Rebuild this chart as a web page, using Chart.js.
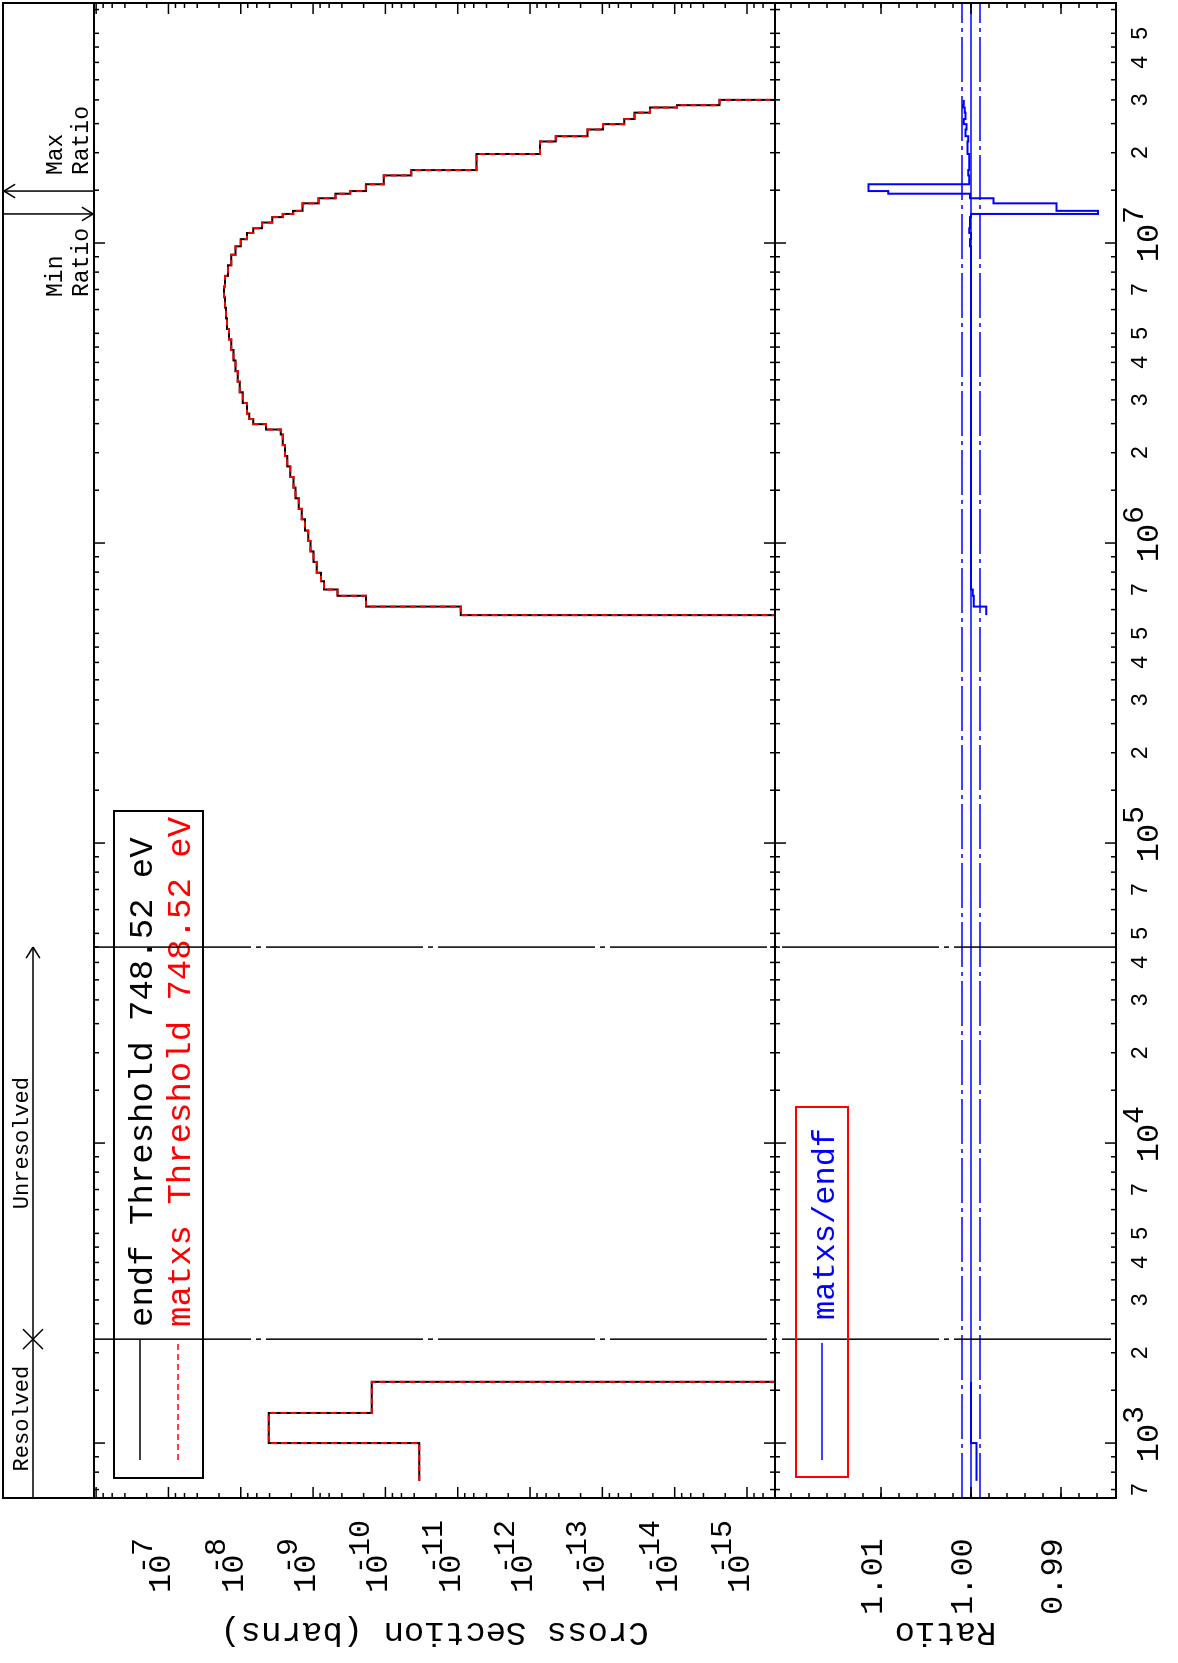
<!DOCTYPE html>
<html>
<head>
<meta charset="utf-8">
<title>matxs / endf</title>
<script src="https://cdn.jsdelivr.net/npm/chart.js@4.4.1/dist/chart.umd.min.js"></script>
<style>
  html, body { margin: 0; padding: 0; background: #fff; overflow: hidden; }
  #sheet {
    position: absolute; left: 0; top: 0;
    width: 1663px; height: 1178px;
    transform-origin: 0 0;
    transform: translate(0px, 1663px) rotate(-90deg);
  }
  #sheet canvas { position: absolute; left: 0; top: 0; }
</style>
</head>
<body>
<div id="sheet">
  <canvas id="xsChart" width="1663" height="1178"></canvas>
  <canvas id="ratioChart" width="1663" height="1178"></canvas>
</div>
<script>
// the plot is laid out landscape and turned a quarter turn, like the printed original

// group lower bounds (eV); last entry closes the last group
const groupE = [748.52, 1000, 1260, 1600, 5.75e5, 6.14e5, 6.67e5, 7.0e5, 7.46e5, 7.96e5,
  8.65e5, 9.38e5, 1.016e6, 1.10e6, 1.20e6, 1.30e6, 1.41e6, 1.53e6, 1.66e6, 1.80e6,
  1.95e6, 2.12e6, 2.30e6, 2.39e6, 2.49e6, 2.59e6, 2.70e6, 2.93e6, 3.18e6, 3.45e6,
  3.74e6, 4.06e6, 4.40e6, 4.77e6, 5.17e6, 5.61e6, 6.09e6, 6.60e6, 7.16e6, 7.77e6,
  8.43e6, 9.14e6, 9.75e6, 1.03e7, 1.08e7, 1.12e7, 1.17e7, 1.22e7, 1.25e7, 1.28e7,
  1.356e7, 1.41e7, 1.46e7, 1.49e7, 1.57e7, 1.68e7, 1.75e7, 1.98e7, 2.18e7, 2.27e7,
  2.39e7, 2.49e7, 2.59e7, 2.72e7, 2.83e7, 2.88e7, 3.0e7, 6.31e7];

// cross sections (barns), 0 = no reaction
const endfXs = [3.4e-11, 4.1e-9, 1.55e-10, 0, 9.1e-12, 1.85e-10, 4.6e-10, 7.06e-10, 7.8e-10, 8.9e-10,
  9.9e-10, 1.09e-9, 1.17e-9, 1.29e-9, 1.43e-9, 1.58e-9, 1.75e-9, 1.87e-9, 2.07e-9, 2.28e-9,
  2.44e-9, 2.62e-9, 2.8e-9, 4.48e-9, 6.7e-9, 7.66e-9, 8.2e-9, 9.36e-9, 1.03e-8, 1.1e-8,
  1.18e-8, 1.26e-8, 1.35e-8, 1.45e-8, 1.55e-8, 1.6e-8, 1.65e-8, 1.71e-8, 1.65e-8, 1.5e-8,
  1.35e-8, 1.18e-8, 1.0e-8, 8.2e-9, 6.7e-9, 5.1e-9, 3.66e-9, 2.62e-9, 1.9e-9, 1.4e-9,
  8.4e-10, 4.9e-10, 3.06e-10, 1.85e-10, 1.05e-10, 4.4e-11, 5.5e-12, 7.3e-13, 4.4e-13, 1.6e-13,
  9.8e-14, 5.0e-14, 3.6e-14, 2.2e-14, 9.3e-15, 2.4e-15, 0, 0];
const matxsXs = [3.4e-11, 4.1e-9, 1.55e-10, 0, 9.08e-12, 1.85e-10, 4.6e-10, 7.06e-10, 7.8e-10, 8.9e-10,
  9.9e-10, 1.09e-9, 1.17e-9, 1.29e-9, 1.43e-9, 1.58e-9, 1.75e-9, 1.87e-9, 2.07e-9, 2.28e-9,
  2.44e-9, 2.62e-9, 2.8e-9, 4.48e-9, 6.7e-9, 7.66e-9, 8.2e-9, 9.36e-9, 1.03e-8, 1.1e-8,
  1.18e-8, 1.26e-8, 1.35e-8, 1.45e-8, 1.55e-8, 1.6e-8, 1.65e-8, 1.71e-8, 1.65e-8, 1.5e-8,
  1.35e-8, 1.18e-8, 1.0e-8, 8.2e-9, 6.7e-9, 5.1e-9, 3.66e-9, 2.62e-9, 1.87e-9, 1.39e-9,
  8.38e-10, 4.9e-10, 3.09e-10, 1.87e-10, 1.05e-10, 4.4e-11, 5.5e-12, 7.3e-13, 4.4e-13, 1.6e-13,
  9.8e-14, 5.0e-14, 3.6e-14, 2.2e-14, 9.3e-15, 2.4e-15, 0, 0];
// matxs/endf per group, null where both are zero
const ratio = [0.9994, 1.0000, 1.0000, null, 0.9983, 0.9997, 0.9998, 1.0000, 1.0000, 1.0000,
  1.0000, 1.0000, 1.0000, 1.0000, 1.0000, 1.0000, 1.0000, 1.0000, 1.0000, 1.0000,
  1.0000, 1.0000, 1.0000, 1.0000, 1.0000, 1.0000, 1.0000, 1.0000, 1.0000, 1.0000,
  1.0000, 1.0000, 1.0000, 1.0000, 1.0000, 1.0000, 1.0000, 1.0000, 1.0000, 1.0000,
  1.0000, 1.0000, 1.0001, 1.0000, 1.0002, 1.0001, 1.0001, 1.0000, 0.9859, 0.9905,
  0.9975, 1.0001, 1.0092, 1.0114, 1.0002, 1.0003, 1.0002, 1.0004, 1.0003, 1.0006,
  1.0005, 1.0008, 1.0006, 1.0007, 1.0009, 1.0008, null, null];

const ratioBand = [0.999, 1.000, 1.001];           // blue guide lines
const regionBounds = [2.22e3, 4.5e4];               // resolved | unresolved | fast
const maxRatioE = 1.49e7, minRatioE = 1.25e7;

const energyDecades = [1e2, 1e3, 1e4, 1e5, 1e6, 1e7];
const energyMinor = [1.5, 2, 2.5, 3, 3.5, 4, 4.5, 5, 6, 7, 8, 9];
const energyMinorLabels = [2, 3, 4, 5, 7];
const xsExponents = [-6, -7, -8, -9, -10, -11, -12, -13, -14, -15, -16];
const xsLabelExponents = [-7, -8, -9, -10, -11, -12, -13, -14, -15];
const xsMinor = [2, 4, 6, 8];
const ratioMajor = [1.01, 1.00, 0.99];
const ratioLabels = ['1.01', '1.00', '0.99'];
const ratioMinorStep = 0.002;

const E_MIN = 656, E_MAX = 6.31e7;
const XS_MIN = 4.1e-16, XS_MAX = 1.07e-6;
const R_MIN = 0.98389, R_MAX = 1.02178;

// page geometry (landscape pixels)
const BOX = { left: 165, right: 1660, outer: 3, top: 94, mid: 775, bottom: 1116 };
const FONT = '"Liberation Mono", "DejaVu Sans Mono", monospace';

function text(ctx, s, x, y, size, color, align) {
  ctx.save();
  ctx.font = size + 'px ' + FONT;
  ctx.fillStyle = color || '#000';
  ctx.textAlign = align || 'left';
  ctx.textBaseline = 'alphabetic';
  ctx.fillText(s, x, y);
  ctx.restore();
}

function line(ctx, x1, y1, x2, y2) {
  ctx.beginPath(); ctx.moveTo(x1, y1); ctx.lineTo(x2, y2); ctx.stroke();
}

function energyTicks(ctx, xs, yLine, dirs) {
  energyDecades.forEach(d => {
    const major = xs.getPixelForValue(d);
    if (d >= E_MIN && d <= E_MAX) dirs.forEach(s => line(ctx, major, yLine, major, yLine + s * 11));
    energyMinor.forEach(m => {
      const v = d * m;
      if (v < E_MIN || v > E_MAX) return;
      const px = xs.getPixelForValue(v);
      dirs.forEach(s => line(ctx, px, yLine, px, yLine + s * 5));
    });
  });
}

function xsTicks(ctx, ys, xLine, dir) {
  xsExponents.forEach(e => {
    const v = Math.pow(10, e);
    if (v >= XS_MIN && v <= XS_MAX) {
      const py = ys.getPixelForValue(v);
      line(ctx, xLine, py, xLine + dir * 11, py);
    }
    xsMinor.forEach(m => {
      const w = m * v;
      if (w < XS_MIN || w > XS_MAX) return;
      const py = ys.getPixelForValue(w);
      line(ctx, xLine, py, xLine + dir * 5, py);
    });
  });
}

function ratioTicks(ctx, ys, xLine, dir) {
  for (let v = 0.986; v < R_MAX; v += ratioMinorStep) {
    const py = ys.getPixelForValue(v);
    line(ctx, xLine, py, xLine + dir * 5, py);
  }
  ratioMajor.forEach(v => {
    const py = ys.getPixelForValue(v);
    line(ctx, xLine, py, xLine + dir * 11, py);
  });
}

function arrowHead(ctx, x, y, angle) {
  const len = 13, spread = 0.55;
  line(ctx, x, y, x - len * Math.cos(angle - spread), y - len * Math.sin(angle - spread));
  line(ctx, x, y, x - len * Math.cos(angle + spread), y - len * Math.sin(angle + spread));
}

function verticalTitle(ctx, s, x, y, size) {
  ctx.save();
  ctx.translate(x, y);
  ctx.rotate(-Math.PI / 2);
  text(ctx, s, 0, 0, size, '#000', 'center');
  ctx.restore();
}

const xsDecor = {
  id: 'xsDecor',
  afterDraw(chart) {
    const { ctx, scales: { x, y } } = chart;
    ctx.save();
    ctx.strokeStyle = '#000';
    ctx.lineWidth = 1.5;
    xsTicks(ctx, y, BOX.left, 1);
    xsTicks(ctx, y, BOX.right, -1);
    energyTicks(ctx, x, BOX.top, [1]);

    // axis labels 10^-n, minus sign riding over the 0 as in the original
    xsLabelExponents.forEach(e => {
      const py = y.getPixelForValue(Math.pow(10, e));
      text(ctx, '10', 70, py + 2, 32);
      text(ctx, '-' + (-e), 89, py - 16, 30);
    });
    verticalTitle(ctx, 'Cross Section (barns)', 40, (BOX.top + BOX.mid) / 2, 34);

    // legend
    ctx.lineWidth = 2;
    ctx.strokeRect(185, 114, 852 - 185, 203 - 114);
    const rows = [140, 178];
    chart.data.datasets.forEach((ds, i) => {
      ctx.save();
      ctx.strokeStyle = ds.borderColor;
      ctx.lineWidth = 1.5;
      ctx.setLineDash(ds.borderDash || []);
      line(ctx, 203, rows[i], 323, rows[i]);
      ctx.restore();
      text(ctx, ds.label, 336, rows[i] + 12, 34, ds.borderColor);
    });
    ctx.restore();
  }
};

const ratioDecor = {
  id: 'ratioDecor',
  afterDraw(chart) {
    const { ctx, scales: { x, y } } = chart;
    ctx.save();
    ctx.strokeStyle = '#000';
    ctx.lineWidth = 2;

    // frame with the annotation strip on top
    ctx.strokeRect(BOX.left, BOX.outer, BOX.right - BOX.left, BOX.bottom - BOX.outer);
    line(ctx, BOX.left, BOX.top, BOX.right, BOX.top);
    line(ctx, BOX.left, BOX.mid, BOX.right, BOX.mid);

    ctx.lineWidth = 1.5;
    ratioTicks(ctx, y, BOX.left, 1);
    ratioTicks(ctx, y, BOX.right, -1);
    energyTicks(ctx, x, BOX.mid, [1, -1]);
    energyTicks(ctx, x, BOX.bottom, [-1]);

    // energy labels
    energyDecades.forEach(d => {
      if (d >= E_MIN && d <= E_MAX) {
        const px = x.getPixelForValue(d);
        text(ctx, '10', px, 1158, 32, '#000', 'center');
        text(ctx, String(Math.round(Math.log10(d))), px + 19, 1143, 30);
      }
      energyMinorLabels.forEach(m => {
        const v = d * m;
        if (v < E_MIN || v > E_MAX) return;
        text(ctx, String(m), x.getPixelForValue(v), 1147, 23, '#000', 'center');
      });
    });

    // ratio labels
    ratioMajor.forEach((v, i) => {
      text(ctx, ratioLabels[i], 48, y.getPixelForValue(v) + 1, 32);
    });
    verticalTitle(ctx, 'Ratio', 40, (BOX.mid + BOX.bottom) / 2, 34);

    // resolved / unresolved boundaries
    ctx.save();
    ctx.lineWidth = 1.5;
    ctx.setLineDash([157, 5, 5, 5]);
    regionBounds.forEach(e => {
      const px = x.getPixelForValue(e);
      line(ctx, px, BOX.top, px, BOX.bottom);
    });
    ctx.restore();

    // annotation strip
    const r0 = x.getPixelForValue(regionBounds[0]);
    const r1 = x.getPixelForValue(regionBounds[1]);
    line(ctx, BOX.left, 33, r1, 33);
    arrowHead(ctx, r1, 33, 0);
    line(ctx, r0 - 10, 23, r0 + 10, 43);
    line(ctx, r0 - 10, 43, r0 + 10, 23);
    text(ctx, 'Resolved', (BOX.left + r0) / 2, 28, 22, '#000', 'center');
    text(ctx, 'Unresolved', (r0 + r1) / 2, 28, 22, '#000', 'center');

    const pMax = x.getPixelForValue(maxRatioE);
    const pMin = x.getPixelForValue(minRatioE);
    line(ctx, pMax, BOX.outer, pMax, BOX.top);
    arrowHead(ctx, pMax, BOX.outer + 1, -Math.PI / 2);
    line(ctx, pMin, BOX.outer, pMin, BOX.top);
    arrowHead(ctx, pMin, BOX.top - 1, Math.PI / 2);
    text(ctx, 'Max', pMax + 16, 62, 23);
    text(ctx, 'Ratio', pMax + 16, 88, 23);
    text(ctx, 'Min', pMin - 83, 62, 23);
    text(ctx, 'Ratio', pMin - 83, 88, 23);

    // legend
    ctx.strokeStyle = '#ff0000';
    ctx.lineWidth = 2;
    ctx.strokeRect(186, 796, 556 - 186, 848 - 796);
    const ds = chart.data.datasets[0];
    ctx.strokeStyle = ds.borderColor;
    ctx.lineWidth = 1.5;
    line(ctx, 203, 822, 320, 822);
    text(ctx, ds.label, 343, 834, 32, ds.borderColor);
    ctx.restore();
  }
};

function stepPoints(values) {
  return groupE.map((e, i) => ({ x: e, y: values[i] === 0 ? XS_MIN : values[i] }));
}

function ratioPoints() {
  const pts = [];
  groupE.forEach((e, i) => {
    const v = ratio[i];
    pts.push({ x: e, y: v });
    if (v !== null && i + 1 < groupE.length && ratio[i + 1] === null) pts.push({ x: groupE[i + 1], y: v });
  });
  return pts;
}

function bandLine(v, dash) {
  return {
    label: 'band ' + v,
    data: [{ x: E_MIN, y: v }, { x: E_MAX, y: v }],
    borderColor: '#0000ff', borderWidth: 1.5, borderDash: dash, pointRadius: 0
  };
}

const common = {
  responsive: false,
  animation: false,
  events: [],
  plugins: { legend: { display: false }, tooltip: { enabled: false } }
};

// each value holds from its own bound up to the next one
new Chart(document.getElementById('xsChart'), {
  type: 'line',
  data: {
    datasets: [
      { label: 'endf Threshold 748.52 eV', data: stepPoints(endfXs), borderColor: '#000000',
        borderWidth: 2, stepped: 'before', pointRadius: 0, order: 2 },
      { label: 'matxs Threshold 748.52 eV', data: stepPoints(matxsXs), borderColor: '#ff0000',
        borderWidth: 2, borderDash: [6, 4], stepped: 'before', pointRadius: 0, order: 1 }
    ]
  },
  options: Object.assign({}, common, {
    layout: { padding: { left: BOX.left, right: 1663 - BOX.right, top: BOX.top, bottom: 1178 - BOX.mid } },
    scales: {
      x: { type: 'logarithmic', min: E_MIN, max: E_MAX, display: false },
      y: { type: 'logarithmic', min: XS_MIN, max: XS_MAX, display: false }
    }
  }),
  plugins: [xsDecor]
});

new Chart(document.getElementById('ratioChart'), {
  type: 'line',
  data: {
    datasets: [
      { label: 'matxs/endf', data: ratioPoints(), borderColor: '#0000ff', borderWidth: 2,
        stepped: 'before', pointRadius: 0 },
      bandLine(ratioBand[0], [45, 5, 4, 5]),
      bandLine(ratioBand[1], []),
      bandLine(ratioBand[2], [45, 5, 4, 5])
    ]
  },
  options: Object.assign({}, common, {
    layout: { padding: { left: BOX.left, right: 1663 - BOX.right, top: BOX.mid, bottom: 1178 - BOX.bottom } },
    scales: {
      x: { type: 'logarithmic', min: E_MIN, max: E_MAX, display: false },
      y: { type: 'linear', min: R_MIN, max: R_MAX, display: false }
    }
  }),
  plugins: [ratioDecor]
});
</script>
</body>
</html>
